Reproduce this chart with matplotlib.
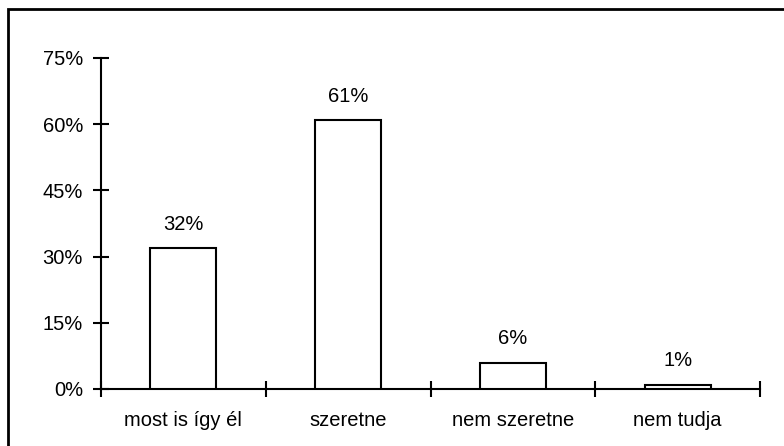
import matplotlib
matplotlib.use("Agg")
import matplotlib.pyplot as plt
from matplotlib.patches import Rectangle
from matplotlib.ticker import FixedLocator, NullFormatter

categories = ["most is így él", "szeretne", "nem szeretne", "nem tudja"]
values = [32, 61, 6, 1]
yticks = [0, 15, 30, 45, 60, 75]
ytick_labels = ["0%", "15%", "30%", "45%", "60%", "75%"]

plt.rcParams['font.family'] = ['Liberation Sans', 'DejaVu Sans']
FS = 14.5

fig = plt.figure(figsize=(7.84, 4.46), dpi=100)
ax = fig.add_axes([101/784, 57/446, (760-101)/784, (389-58)/446])

x = list(range(len(categories)))
ax.bar(x, values, width=0.4, facecolor='white', edgecolor='black', linewidth=1.5, zorder=3)

for xi, v in zip(x, values):
    ax.annotate(f"{v}%", (xi, v), xytext=(0, 17), textcoords='offset points',
                ha='center', va='center', fontsize=FS)

ax.set_xlim(-0.5, len(categories) - 0.5)
ax.set_ylim(0, 75)
ax.set_yticks(yticks)
ax.set_yticklabels(ytick_labels, fontsize=FS)

bounds = [i - 0.5 for i in range(len(categories) + 1)]
ax.xaxis.set_major_locator(FixedLocator(bounds))
ax.xaxis.set_major_formatter(NullFormatter())
ax.xaxis.set_minor_locator(FixedLocator(x))
ax.set_xticklabels(categories, minor=True, fontsize=FS)

ax.tick_params(axis='both', which='major', direction='inout', length=11, width=1.5, color='black')
ax.tick_params(axis='y', which='major', pad=7.5)
ax.tick_params(axis='x', which='minor', length=0, pad=16)

for s in ['top', 'right']:
    ax.spines[s].set_visible(False)
for s in ['left', 'bottom']:
    ax.spines[s].set_linewidth(1.5)

frame = Rectangle((8/784, -0.1), 1.2, 1.1 - 9/446, transform=fig.transFigure,
                  fill=False, edgecolor='black', linewidth=2, clip_on=False)
fig.patches.append(frame)

fig.savefig("out.png", dpi=100, facecolor='white')
